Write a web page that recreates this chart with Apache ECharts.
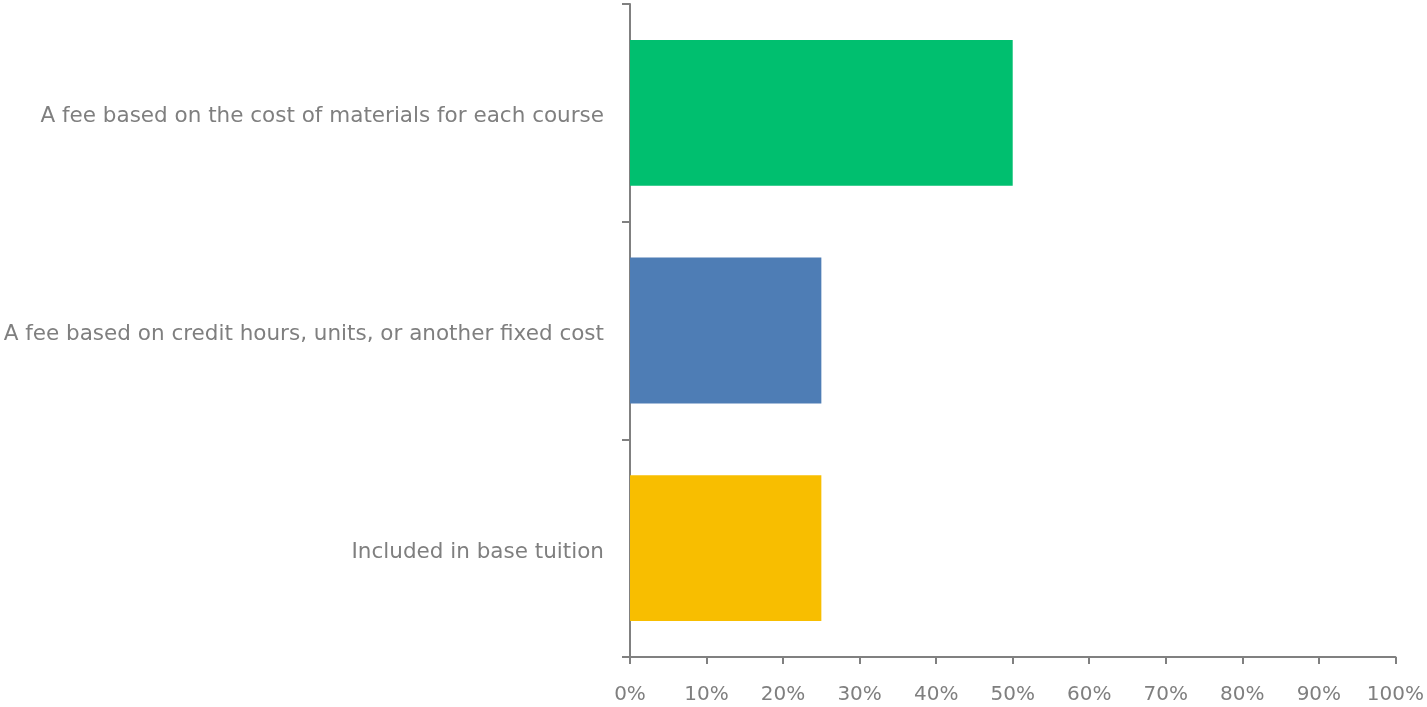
<!DOCTYPE html>
<html><head><meta charset="utf-8">
<script src="https://cdn.jsdelivr.net/npm/echarts@6/dist/echarts.min.js"></script>
<style>html,body{margin:0;padding:0;background:#fff}#c{width:1427px;height:707px}</style>
</head><body><div id="c"></div>
<script>
const categories = ["A fee based on the cost of materials for each course", "A fee based on credit hours, units, or another fixed cost", "Included in base tuition"];
const values = [50, 25, 25];
const colors = ["#00BF6F", "#4E7DB5", "#F8BE00"];
const xTicks = [0, 10, 20, 30, 40, 50, 60, 70, 80, 90, 100];

const chart = echarts.init(document.getElementById('c'));
chart.setOption({
  animation: false,
  grid: {left: 630, right: 31, top: 4, bottom: 50, containLabel: false},
  xAxis: {
    type: 'value', min: 0, max: 100, interval: 10,
    axisLine: {show: true, lineStyle: {color: '#808080', width: 2}},
    axisTick: {show: true, length: 7, lineStyle: {color: '#808080', width: 2}},
    splitLine: {show: false},
    axisLabel: {formatter: v => v + '%', color: '#7f7f7f', fontSize: 20, fontFamily: 'DejaVu Sans', margin: 28}
  },
  yAxis: {
    type: 'category', data: categories, inverse: true,
    axisLine: {show: true, lineStyle: {color: '#808080', width: 2}},
    axisTick: {show: true, inside: false, length: 8, lineStyle: {color: '#808080', width: 2}},
    axisLabel: {
      margin: 26,
      formatter: v => '{a|' + v + '}',
      rich: {a: {color: '#7f7f7f', fontSize: 21.5, fontFamily: 'DejaVu Sans', padding: [8, 0, 0, 0]}}
    }
  },
  series: [{
    type: 'bar',
    data: values.map((v, i) => ({value: v, itemStyle: {color: colors[i]}})),
    barWidth: '67%'
  }]
});
</script></body></html>
